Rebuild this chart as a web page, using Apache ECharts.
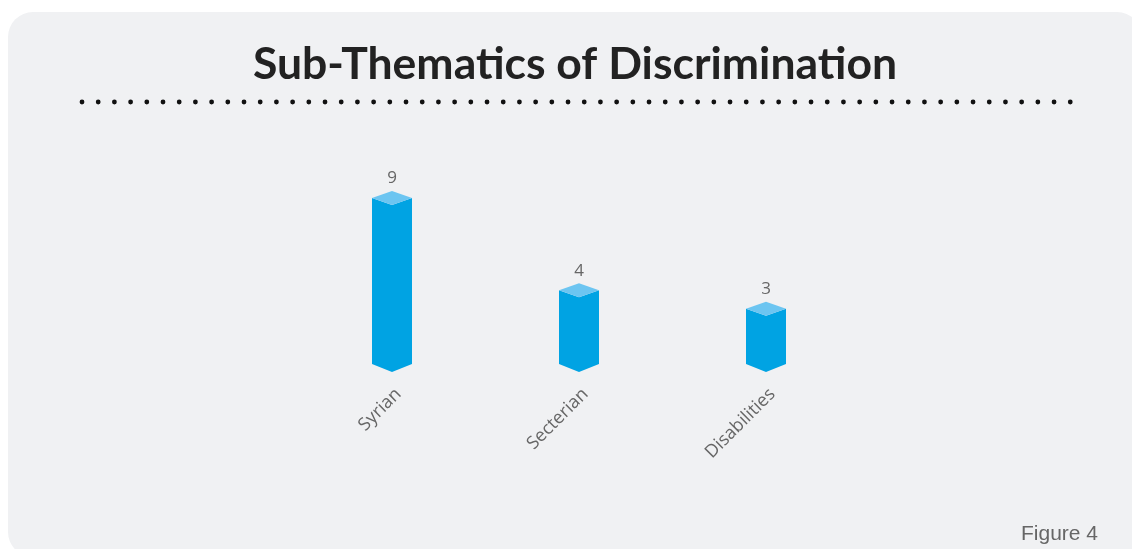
<!DOCTYPE html>
<html>
<head>
<meta charset="utf-8">
<script src="https://cdn.jsdelivr.net/npm/echarts@6/dist/echarts.min.js"></script>
<style>
html,body{margin:0;padding:0;background:#ffffff;}
#chart{width:1132px;height:549px;}
</style>
</head>
<body>
<div id="chart"></div>
<script>
var categories = ['Syrian', 'Secterian', 'Disabilities'];
var values = [9, 4, 3];
var titleText = 'Sub-Thematics of Discrimination';
var footText = 'Figure 4';

var chart = echarts.init(document.getElementById('chart'));

function renderBar(params, api) {
  var idx = api.value(0);
  var val = api.value(1);
  var top = api.coord([idx, val]);
  var base = api.coord([idx, 0]);
  var w = 40;
  var half = w / 2;
  var cx = top[0];
  var yt = top[1];
  var yb = base[1];
  var d = 7;
  return {
    type: 'group',
    children: [
      {
        type: 'polygon',
        shape: { points: [[cx - half, yt], [cx, yt + d], [cx + half, yt], [cx + half, yb], [cx, yb + 8], [cx - half, yb]] },
        style: { fill: '#00a3e3' }
      },
      {
        type: 'polygon',
        shape: { points: [[cx - half, yt], [cx, yt - d], [cx + half, yt], [cx, yt + d]] },
        style: { fill: '#6cc5f1' }
      },
      {
        type: 'text',
        x: cx, y: yt - d - 4,
        style: {
          text: String(val), fill: '#666666', fontSize: 17,
          fontFamily: 'Open Sans', align: 'center', verticalAlign: 'bottom'
        }
      }
    ]
  };
}

var option = {
  backgroundColor: '#ffffff',
  animation: false,
  graphic: [
    {
      type: 'rect', z: -10, silent: true,
      shape: { x: 8, y: 12, width: 1134, height: 545, r: 25 },
      style: { fill: '#f0f1f3' }
    },
    {
      type: 'text', z: 10,
      x: 575, y: 42,
      style: {
        text: titleText, fill: '#222222', fontSize: 44.5, fontWeight: 'bold',
        fontFamily: 'Lato', align: 'center', verticalAlign: 'top'
      }
    },
    {
      type: 'line', z: 10,
      shape: { x1: 82, y1: 102, x2: 1072, y2: 102 },
      style: { stroke: '#111111', lineWidth: 4.8, lineCap: 'round', lineDash: [0.001, 16.2] }
    },
    {
      type: 'text', z: 10,
      x: 1098, y: 524,
      style: {
        text: footText, fill: '#666666', fontSize: 21,
        fontFamily: 'Liberation Sans', align: 'right', verticalAlign: 'top'
      }
    }
  ],
  grid: { left: 298.5, width: 561, top: 179.6, height: 184.4, containLabel: false },
  xAxis: {
    type: 'category',
    data: categories,
    axisLine: { show: false },
    axisTick: { show: false },
    axisLabel: {
      interval: 0, rotate: 45, margin: 21, verticalAlign: 'top',
      color: '#666666', fontSize: 18, fontFamily: 'Open Sans'
    }
  },
  yAxis: {
    type: 'value', min: 0, max: 10,
    show: false, splitLine: { show: false }
  },
  series: [
    {
      type: 'custom',
      renderItem: renderBar,
      data: values.map(function (v, i) { return [i, v]; }),
      encode: { x: 0, y: 1 }
    }
  ]
};
chart.setOption(option);
</script>
</body>
</html>
